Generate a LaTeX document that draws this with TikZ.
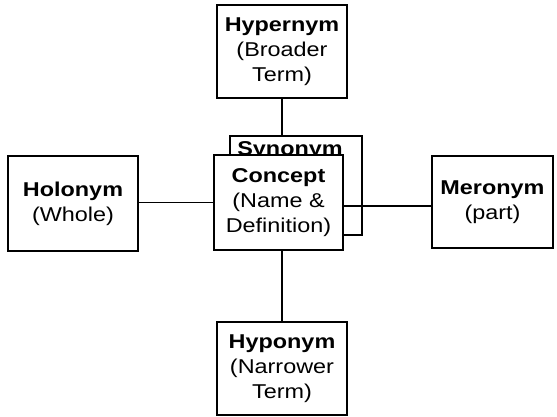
\documentclass[tikz,border=0pt]{standalone}
\usepackage{fontspec}
\newfontfamily\boxfont[FakeStretch=1.17]{Liberation Sans}
\begin{document}
\begin{tikzpicture}[x=1pt,y=-1pt,
  termbox/.style={draw, line width=1.3pt, fill=white, rectangle, inner sep=0pt,
    align=center, font=\boxfont\fontsize{20}{25}\selectfont},
  link/.style={line width=1.3pt}]
\useasboundingbox (0,0) rectangle (557,417);

% synonym frame sits behind the concept box
\node[termbox, minimum width=132pt, minimum height=99pt] (syn) at (296,185.5) {};
\node[anchor=base, inner sep=0pt, font=\boxfont\fontsize{20}{25}\selectfont\bfseries] (syntext) at (290,156) {Synonym};

\node[termbox, minimum width=129pt, minimum height=95pt] (concept) at (278.5,202.5)
  {\bfseries Concept\\(Name \&\\Definition)};

\node[termbox, minimum width=130pt, minimum height=93pt] (hyper) at (282,51.5)
  {\bfseries Hypernym\\(Broader\\Term)};
\node[termbox, minimum width=130pt, minimum height=93pt] (hypo) at (282,368.5)
  {\bfseries Hyponym\\(Narrower\\Term)};
\node[termbox, minimum width=130pt, minimum height=95pt] (holo) at (73,203.5)
  {\bfseries Holonym\\(Whole)};
\node[termbox, minimum width=121pt, minimum height=92pt] (mero) at (492.5,202)
  {\bfseries Meronym\\(part)};

% connectors
\draw[link] (hyper.south) -- (hyper.south |- syn.north);
\draw[link] (hypo.north) -- (hypo.north |- concept.south);
\draw[link] (concept.west) -- (concept.west -| holo.east);
\draw[link] ([yshift=-4pt]mero.west) -- ([yshift=-4pt]mero.west -| concept.east);
\end{tikzpicture}
\end{document}
